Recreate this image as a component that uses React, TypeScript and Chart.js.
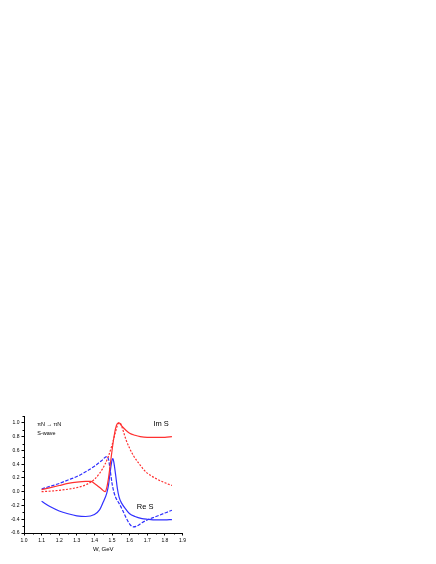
import React, { useEffect, useRef } from "react";
import { Chart, registerables } from "chart.js";

Chart.register(...registerables);

// Im S (solid)
const imSolidW = [1.1, 1.15, 1.2, 1.25, 1.3, 1.35, 1.38, 1.4, 1.42, 1.44, 1.46, 1.47, 1.48, 1.49, 1.5, 1.51, 1.52, 1.53, 1.54, 1.55, 1.56, 1.58, 1.6, 1.63, 1.66, 1.7, 1.75, 1.8, 1.84];
const imSolid = [0.03, 0.06, 0.09, 0.12, 0.14, 0.15, 0.15, 0.12, 0.08, 0.04, 0.0, 0.06, 0.2, 0.4, 0.6, 0.78, 0.92, 0.99, 1.0, 0.97, 0.94, 0.89, 0.85, 0.82, 0.8, 0.79, 0.79, 0.79, 0.8];
// Im S (dashed)
const imDashW = [1.1, 1.2, 1.3, 1.35, 1.4, 1.43, 1.46, 1.48, 1.5, 1.52, 1.535, 1.545, 1.555, 1.565, 1.58, 1.6, 1.62, 1.65, 1.68, 1.7, 1.75, 1.8, 1.84];
const imDash = [0.0, 0.02, 0.06, 0.1, 0.18, 0.27, 0.4, 0.52, 0.68, 0.87, 0.99, 1.0, 0.95, 0.87, 0.75, 0.63, 0.53, 0.42, 0.32, 0.27, 0.19, 0.13, 0.09];
// Re S (solid)
const reSolidW = [1.1, 1.15, 1.2, 1.25, 1.3, 1.35, 1.4, 1.43, 1.45, 1.47, 1.48, 1.49, 1.5, 1.505, 1.51, 1.52, 1.53, 1.54, 1.555, 1.58, 1.6, 1.63, 1.67, 1.7, 1.75, 1.8, 1.84];
const reSolid = [-0.14, -0.22, -0.28, -0.32, -0.35, -0.36, -0.33, -0.26, -0.15, -0.02, 0.1, 0.3, 0.46, 0.48, 0.43, 0.25, 0.05, -0.08, -0.17, -0.26, -0.32, -0.36, -0.39, -0.4, -0.41, -0.41, -0.405];
// Re S (dashed)
const reDashW = [1.1, 1.15, 1.2, 1.25, 1.3, 1.35, 1.4, 1.44, 1.47, 1.48, 1.49, 1.5, 1.51, 1.52, 1.54, 1.56, 1.58, 1.6, 1.62, 1.64, 1.67, 1.7, 1.75, 1.8, 1.84];
const reDash = [0.04, 0.08, 0.12, 0.17, 0.22, 0.29, 0.37, 0.45, 0.51, 0.47, 0.3, 0.12, 0.0, -0.08, -0.17, -0.27, -0.38, -0.47, -0.51, -0.5, -0.45, -0.41, -0.36, -0.31, -0.27];

const xTicks = [1.0, 1.1, 1.2, 1.3, 1.4, 1.5, 1.6, 1.7, 1.8, 1.9];
const yTicks = [-0.6, -0.4, -0.2, 0.0, 0.2, 0.4, 0.6, 0.8, 1.0];
const xMinorTicks = [1.05, 1.15, 1.25, 1.35, 1.45, 1.55, 1.65, 1.75, 1.85];
const yMinorTicks = [-0.5, -0.3, -0.1, 0.1, 0.3, 0.5, 0.7, 0.9, 1.1];

const xTitle = "W, GeV";
const labels = [
  { text: "\u03c0N \u2192 \u03c0N", x: 1.075, y: 0.98, size: 5.5 },
  { text: "S-wave", x: 1.075, y: 0.84, size: 5.5 },
  { text: "Im S", x: 1.735, y: 0.98, size: 7.5 },
  { text: "Re S", x: 1.64, y: -0.22, size: 7.5 },
];

const FONT = "'Liberation Sans', Arial, sans-serif";

const toPts = (w: number[], v: number[]) => w.map((x, i) => ({ x, y: v[i] }));

export default function App() {
  const ref = useRef<HTMLCanvasElement | null>(null);
  useEffect(() => {
    if (!ref.current) return;
    const extras = {
      id: "extras",
      afterDraw(chart: any) {
        const ctx = chart.ctx;
        const xs = chart.scales.x;
        const ys = chart.scales.y;
        ctx.save();
        ctx.strokeStyle = "#000";
        ctx.lineWidth = 1;
        ctx.beginPath();
        xMinorTicks.forEach((t) => {
          const px = Math.round(xs.getPixelForValue(t)) + 0.5;
          ctx.moveTo(px, ys.bottom);
          ctx.lineTo(px, ys.bottom + 1.5);
        });
        yMinorTicks.forEach((t) => {
          const py = Math.round(ys.getPixelForValue(t)) + 0.5;
          ctx.moveTo(xs.left, py);
          ctx.lineTo(xs.left - 1.5, py);
        });
        ctx.stroke();
        ctx.fillStyle = "#000";
        ctx.textBaseline = "middle";
        ctx.textAlign = "left";
        labels.forEach((l) => {
          ctx.font = `${l.size}px ${FONT}`;
          ctx.fillText(l.text, xs.getPixelForValue(l.x), ys.getPixelForValue(l.y));
        });
        ctx.restore();
      },
    };
    const chart = new Chart(ref.current, {
      type: "line",
      data: {
        datasets: [
          { data: toPts(imSolidW, imSolid), borderColor: "#ff3030", borderWidth: 1.2 },
          { data: toPts(imDashW, imDash), borderColor: "#ff3030", borderWidth: 1.2, borderDash: [2, 1.5] },
          { data: toPts(reSolidW, reSolid), borderColor: "#3030ff", borderWidth: 1.2 },
          { data: toPts(reDashW, reDash), borderColor: "#3030ff", borderWidth: 1.2, borderDash: [3.5, 1.5] },
        ],
      },
      options: {
        animation: false,
        responsive: false,
        parsing: false as any,
        elements: { point: { radius: 0 }, line: { cubicInterpolationMode: "monotone" } },
        plugins: { legend: { display: false }, tooltip: { enabled: false } },
        layout: { padding: { left: 4, top: 416, right: 253.5, bottom: 11 } },
        scales: {
          x: {
            type: "linear",
            min: 1.0,
            max: 1.9,
            afterBuildTicks: (s: any) => { s.ticks = xTicks.map((v) => ({ value: v })); },
            afterFit: (s: any) => { s.height = 20; },
            grid: { drawOnChartArea: false, drawTicks: true, tickLength: 2.5, color: "#000" },
            border: { display: true, color: "#000", width: 1 },
            ticks: {
              color: "#000",
              font: { family: FONT, size: 5 },
              padding: 2,
              maxRotation: 0,
              callback: (v: any) => Number(v).toFixed(1),
            },
            title: { display: true, text: xTitle, color: "#000", font: { family: FONT, size: 6 }, padding: { top: 2, bottom: 0 } },
          },
          y: {
            type: "linear",
            min: -0.6,
            max: 1.1,
            afterBuildTicks: (s: any) => { s.ticks = yTicks.map((v) => ({ value: v })); },
            afterFit: (s: any) => { s.width = 20; },
            grid: { drawOnChartArea: false, drawTicks: true, tickLength: 2.5, color: "#000" },
            border: { display: true, color: "#000", width: 1 },
            ticks: {
              color: "#000",
              font: { family: FONT, size: 5 },
              padding: 2,
              callback: (v: any) => Number(v).toFixed(1),
            },
          },
        },
      },
      plugins: [extras],
    } as any);
    return () => chart.destroy();
  }, []);
  return (
    <div style={{ position: "absolute", left: 0, top: 0, width: 436, height: 564 }}>
      <canvas ref={ref} width={436} height={564} style={{ display: "block" }} />
    </div>
  );
}
